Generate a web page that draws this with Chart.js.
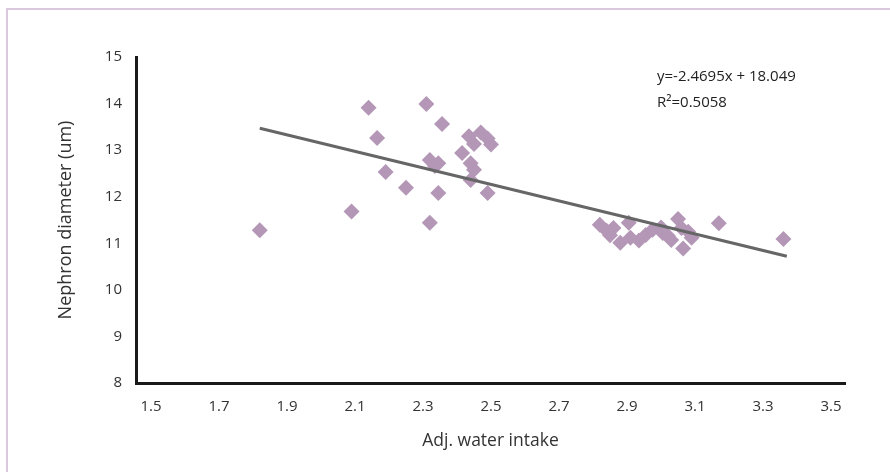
<!DOCTYPE html>
<html>
<head>
<meta charset="utf-8">
<script src="https://cdn.jsdelivr.net/npm/chart.js@4/dist/chart.umd.min.js"></script>
<style>
  html, body { margin: 0; padding: 0; background: #fff; }
  #wrap { width: 890px; height: 472px; }
</style>
</head>
<body>
<div id="wrap"><canvas id="chart" width="890" height="472"></canvas></div>
<script>
// water intake (x) vs nephron diameter (y)
const waterIntake = [
  1.82, 2.09, 2.14, 2.165, 2.19, 2.25, 2.31, 2.32, 2.32, 2.335, 2.345, 2.345, 2.356,
  2.415, 2.435, 2.44, 2.45, 2.45, 2.44, 2.47, 2.49, 2.50, 2.49,
  2.82, 2.84, 2.86, 2.85, 2.88, 2.905, 2.91, 2.935, 2.955, 2.975, 3.00, 3.005, 3.02,
  3.03, 3.05, 3.06, 3.065, 3.08, 3.09, 3.17, 3.36
];
const nephronDiameter = [
  11.28, 11.68, 13.91, 13.26, 12.53, 12.19, 13.99, 12.79, 11.44, 12.66, 12.72, 12.08, 13.56,
  12.94, 13.30, 12.72, 13.13, 12.58, 12.36, 13.38, 13.25, 13.12, 12.08,
  11.40, 11.27, 11.33, 11.17, 11.01, 11.44, 11.12, 11.06, 11.18, 11.29, 11.34, 11.22, 11.16,
  11.07, 11.52, 11.33, 10.89, 11.25, 11.12, 11.43, 11.09
];
// linear trend line, its two ends as drawn
const trendX = [1.82, 3.37];
const trendY = [13.47, 10.72];

const xTicks = [1.5, 1.7, 1.9, 2.1, 2.3, 2.5, 2.7, 2.9, 3.1, 3.3, 3.5];
const yTicks = [8, 9, 10, 11, 12, 13, 14, 15];

const equationText = 'y=-2.4695x + 18.049';
const rSquaredText = 'R²=0.5058';

const FONT = '"Open Sans", "Noto Sans", sans-serif';

// frame, white background and regression text
const decor = {
  id: 'decor',
  beforeDraw(chart) {
    const ctx = chart.ctx;
    ctx.save();
    ctx.fillStyle = '#fff';
    ctx.fillRect(0, 0, chart.width, chart.height);
    ctx.strokeStyle = '#dac8dc';
    ctx.lineWidth = 2;
    ctx.beginPath();
    ctx.moveTo(7, chart.height);
    ctx.lineTo(7, 9);
    ctx.lineTo(chart.width, 9);
    ctx.stroke();
    ctx.restore();
  },
  afterDraw(chart) {
    const ctx = chart.ctx;
    ctx.save();
    ctx.fillStyle = '#222';
    ctx.font = '15px ' + FONT;
    ctx.textBaseline = 'middle';
    ctx.fillText(equationText, 657, 77);
    ctx.fillText(rSquaredText, 657, 103);
    ctx.restore();
  }
};

const points = waterIntake.map((x, i) => ({ x: x, y: nephronDiameter[i] }));
const trend = trendX.map((x, i) => ({ x: x, y: trendY[i] }));

new Chart(document.getElementById('chart'), {
  type: 'scatter',
  data: {
    datasets: [
      {
        label: 'Trend',
        type: 'line',
        data: trend,
        borderColor: '#666666',
        borderWidth: 3,
        pointRadius: 0,
        fill: false,
        order: 1
      },
      {
        label: 'Nephron diameter',
        data: points,
        pointStyle: 'rectRot',
        pointRadius: 8,
        pointHoverRadius: 8,
        backgroundColor: '#b497b6',
        borderWidth: 0,
        order: 2
      }
    ]
  },
  options: {
    responsive: false,
    animation: false,
    layout: { padding: { top: 57, right: 45, left: 0, bottom: 0 } },
    plugins: {
      legend: { display: false },
      tooltip: { enabled: false }
    },
    scales: {
      x: {
        type: 'linear',
        min: 1.456,
        max: 3.541,
        afterBuildTicks: s => { s.ticks = xTicks.map(v => ({ value: v })); },
        afterFit: s => { s.height = 89; },
        grid: { display: false, drawTicks: false },
        border: { display: true, color: '#1a1a1a', width: 3 },
        ticks: {
          color: '#333',
          font: { family: FONT, size: 15 },
          padding: 15,
          callback: v => v.toFixed(1)
        },
        title: {
          display: true,
          text: 'Adj. water intake',
          color: '#333',
          font: { family: FONT, size: 17.5 },
          padding: { top: 4, bottom: 20 }
        }
      },
      y: {
        min: 8,
        max: 15,
        afterBuildTicks: s => { s.ticks = yTicks.map(v => ({ value: v })); },
        afterFit: s => { s.width = 136; },
        grid: { display: false, drawTicks: false },
        border: { display: true, color: '#1a1a1a', width: 3 },
        ticks: {
          color: '#333',
          font: { family: FONT, size: 15 },
          padding: 14
        },
        title: {
          display: true,
          text: 'Nephron diameter (um)',
          color: '#333',
          font: { family: FONT, size: 18 },
          padding: { top: 55, bottom: 0 }
        }
      }
    }
  },
  plugins: [decor]
});
</script>
</body>
</html>
